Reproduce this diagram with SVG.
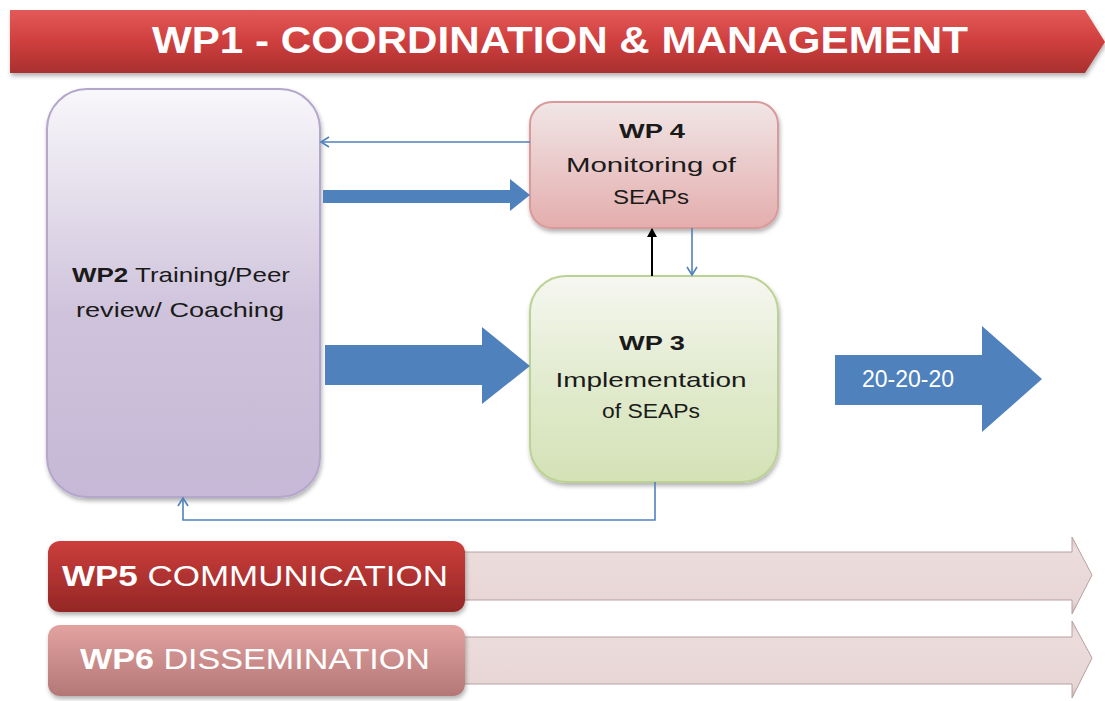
<svg xmlns="http://www.w3.org/2000/svg" width="1105" height="701" viewBox="0 0 1105 701">
<style>
.t{font-family:"Liberation Sans",Arial,sans-serif}
.w{fill:#ffffff}
.d{fill:#1a1a1a}
.thin{fill:none;stroke:#4f81bd;stroke-width:1.6}
.blk{fill:#4f81bd}
</style>
<defs>
<linearGradient id="gRed" x1="0" y1="0" x2="0" y2="1"><stop offset="0" stop-color="#e35a58"/><stop offset="0.5" stop-color="#cf3f3e"/><stop offset="1" stop-color="#a9302f"/></linearGradient>
<linearGradient id="gWp5" x1="0" y1="0" x2="0" y2="1"><stop offset="0" stop-color="#cc3e3b"/><stop offset="1" stop-color="#942726"/></linearGradient>
<linearGradient id="gWp6" x1="0" y1="0" x2="0" y2="1"><stop offset="0" stop-color="#e2a2a0"/><stop offset="1" stop-color="#b37876"/></linearGradient>
<linearGradient id="gBar" x1="0" y1="0" x2="0" y2="1"><stop offset="0" stop-color="#dcc6c6"/><stop offset="0.15" stop-color="#ecdcdc"/><stop offset="0.85" stop-color="#e8d6d6"/><stop offset="1" stop-color="#c8b0b0"/></linearGradient>
<linearGradient id="gWp2" x1="0" y1="0" x2="0" y2="1"><stop offset="0" stop-color="#f8f7fa"/><stop offset="0.55" stop-color="#cfc3dc"/><stop offset="1" stop-color="#c6b8d6"/></linearGradient>
<linearGradient id="gWp4" x1="0" y1="0" x2="0" y2="1"><stop offset="0" stop-color="#f1e6e6"/><stop offset="1" stop-color="#e4adad"/></linearGradient>
<linearGradient id="gWp3" x1="0" y1="0" x2="0" y2="1"><stop offset="0" stop-color="#f6f7f1"/><stop offset="0.5" stop-color="#e2ebcf"/><stop offset="1" stop-color="#d4e2b6"/></linearGradient>
<marker id="open" markerWidth="12" markerHeight="12" refX="10" refY="6" orient="auto" markerUnits="userSpaceOnUse"><path d="M2,1 L10,6 L2,11" fill="none" stroke="#4f81bd" stroke-width="1.6"/></marker>
<marker id="solid" markerWidth="10" markerHeight="10" refX="8" refY="5" orient="auto" markerUnits="userSpaceOnUse"><path d="M0,0 L9,5 L0,10 Z" fill="#000"/></marker>
<filter id="sh" x="-5%" y="-5%" width="110%" height="120%"><feDropShadow dx="1" dy="3" stdDeviation="2" flood-color="#000" flood-opacity="0.3"/></filter>
</defs>
<rect width="1105" height="701" fill="#ffffff"/>

<g id="wp1">
<path d="M10,10 H1085 L1105,42 L1085,73 H10 Z" fill="url(#gRed)" filter="url(#sh)"/>
<text class="t w" x="560" y="53" font-size="36" font-weight="bold" text-anchor="middle" textLength="816" lengthAdjust="spacingAndGlyphs">WP1 - COORDINATION &amp; MANAGEMENT</text>
</g>

<g id="wp2">
<rect x="47" y="89" width="273" height="408" rx="40" fill="url(#gWp2)" stroke="#b5a6cc" stroke-width="2" filter="url(#sh)"/>
<text class="t d" x="181" y="282" font-size="21" text-anchor="middle" textLength="218" lengthAdjust="spacingAndGlyphs"><tspan font-weight="bold">WP2</tspan> Training/Peer</text>
<text class="t d" x="180" y="317" font-size="21" text-anchor="middle" textLength="208" lengthAdjust="spacingAndGlyphs">review/ Coaching</text>
</g>

<g id="wp4">
<rect x="530" y="102" width="248" height="126" rx="22" fill="url(#gWp4)" stroke="#d99a99" stroke-width="2" filter="url(#sh)"/>
<text class="t d" x="652" y="138" font-size="21" font-weight="bold" text-anchor="middle" textLength="66" lengthAdjust="spacingAndGlyphs">WP 4</text>
<text class="t d" x="651" y="172" font-size="21" text-anchor="middle" textLength="170" lengthAdjust="spacingAndGlyphs">Monitoring of</text>
<text class="t d" x="651" y="204" font-size="21" text-anchor="middle" textLength="76" lengthAdjust="spacingAndGlyphs">SEAPs</text>
</g>

<g id="wp3">
<rect x="530" y="276" width="248" height="206" rx="36" fill="url(#gWp3)" stroke="#bcd293" stroke-width="2" filter="url(#sh)"/>
<text class="t d" x="652" y="350" font-size="21" font-weight="bold" text-anchor="middle" textLength="66" lengthAdjust="spacingAndGlyphs">WP 3</text>
<text class="t d" x="651" y="387" font-size="21" text-anchor="middle" textLength="191" lengthAdjust="spacingAndGlyphs">Implementation</text>
<text class="t d" x="651" y="418" font-size="21" text-anchor="middle" textLength="98" lengthAdjust="spacingAndGlyphs">of SEAPs</text>
</g>

<g id="target">
<path d="M835,355 H982 V326 L1042,379 L982,432 V405 H835 Z" fill="#4f81bd"/>
<text class="t w" x="908" y="387" font-size="23" text-anchor="middle" textLength="92" lengthAdjust="spacingAndGlyphs">20-20-20</text>
</g>

<g id="wp5">
<path d="M455,552 H1072 V537 L1092,575 L1072,614 V600 H455 Z" fill="url(#gBar)" stroke="#b8a0a0" stroke-width="1"/>
<rect x="48" y="541" width="417" height="71" rx="12" fill="url(#gWp5)" filter="url(#sh)"/>
<text class="t w" x="255" y="586" font-size="29" text-anchor="middle" textLength="386" lengthAdjust="spacingAndGlyphs"><tspan font-weight="bold">WP5</tspan> COMMUNICATION</text>
</g>

<g id="wp6">
<path d="M455,637 H1072 V621 L1092,658 L1072,698 V684 H455 Z" fill="url(#gBar)" stroke="#b8a0a0" stroke-width="1"/>
<rect x="48" y="625" width="417" height="71" rx="12" fill="url(#gWp6)" filter="url(#sh)"/>
<text class="t w" x="255" y="669" font-size="29" text-anchor="middle" textLength="350" lengthAdjust="spacingAndGlyphs"><tspan font-weight="bold">WP6</tspan> DISSEMINATION</text>
</g>

<g id="connectors">
<line class="thin" x1="530" y1="142" x2="321" y2="142" marker-end="url(#open)"/>
<path class="blk" d="M323,190 H510 V179 L530,195 L510,211 V203 H323 Z"/>
<path class="blk" d="M325,345 H482 V327 L530,366 L482,404 V385 H325 Z"/>
<line x1="652" y1="276" x2="652" y2="229" stroke="#000" stroke-width="2" marker-end="url(#solid)"/>
<line class="thin" x1="692" y1="228" x2="692" y2="275" marker-end="url(#open)"/>
<path class="thin" d="M655,482 V520 H183 V498" marker-end="url(#open)"/>
</g>
</svg>
